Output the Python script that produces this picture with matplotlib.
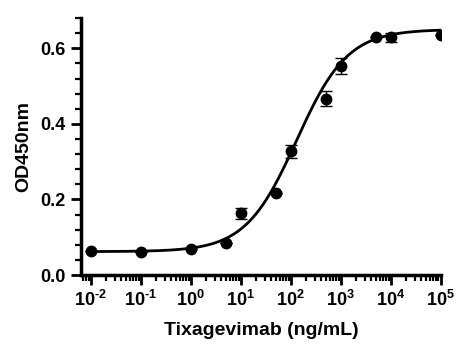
import matplotlib

matplotlib.use("Agg")
import matplotlib.pyplot as plt  # noqa: E402
import numpy as np  # noqa: E402
from matplotlib.ticker import FixedLocator, LogLocator, MultipleLocator, NullFormatter  # noqa: E402

# measured points (mean ± SD)
conc = [0.01, 0.1, 1, 5, 10, 50, 100, 500, 1000, 5000, 10000, 100000]
od450 = [0.063, 0.062, 0.068, 0.084, 0.163, 0.218, 0.327, 0.466, 0.554, 0.630, 0.629, 0.634]
od_sd = [0.0, 0.0, 0.0, 0.0, 0.014, 0.0, 0.016, 0.020, 0.021, 0.0, 0.012, 0.0]
x_exponents = [-2, -1, 0, 1, 2, 3, 4, 5]

# 4PL fit parameters
fit_bottom = 0.062
fit_top = 0.650
fit_ec50 = 130.0
fit_hill = 0.85

plt.rcParams["font.family"] = ["Liberation Sans", "DejaVu Sans"]
plt.rcParams["font.weight"] = "bold"
plt.rcParams["axes.unicode_minus"] = False
plt.rcParams["mathtext.fontset"] = "custom"
plt.rcParams["mathtext.rm"] = "Liberation Sans:bold"
plt.rcParams["mathtext.it"] = "Liberation Sans:bold"
plt.rcParams["mathtext.bf"] = "Liberation Sans:bold"

fig = plt.figure(figsize=(4.76, 3.54), dpi=100)
ax = fig.add_axes([0.170, 0.223, 0.756, 0.726])

xs = np.logspace(-2, 5, 400)
ys = fit_bottom + (fit_top - fit_bottom) / (1 + (fit_ec50 / xs) ** fit_hill)
ax.plot(xs, ys, color="black", linewidth=2.0, zorder=2)

ax.errorbar(conc, od450, yerr=od_sd, fmt="o", color="black", markersize=7.5,
            elinewidth=1.0, capsize=4, capthick=1.0, zorder=3)

ax.set_xscale("log")
ax.set_xlim(10 ** -2.2, 1e5)
ax.set_ylim(0, 0.68)

ax.xaxis.set_major_locator(FixedLocator([10.0 ** k for k in x_exponents]))
ax.xaxis.set_minor_locator(LogLocator(base=10, subs=np.arange(2, 10), numticks=20))
ax.xaxis.set_minor_formatter(NullFormatter())
ax.set_xticklabels([f"$10^{{{str(k).replace('-', chr(0x2010))}}}$" for k in x_exponents])

ax.yaxis.set_major_locator(FixedLocator([0.0, 0.2, 0.4, 0.6]))
ax.yaxis.set_minor_locator(MultipleLocator(0.04))
ax.set_yticklabels(["0.0", "0.2", "0.4", "0.6"])

for side in ["top", "right"]:
    ax.spines[side].set_visible(False)
for side in ["left", "bottom"]:
    ax.spines[side].set_linewidth(2.5)

ax.tick_params(which="major", length=7, width=2.0, labelsize=13, pad=4)
ax.tick_params(which="minor", length=4, width=1.6)

ax.set_xlabel("Tixagevimab (ng/mL)", fontsize=14, fontweight="bold", labelpad=8)
ax.set_ylabel("OD450nm", fontsize=14, fontweight="bold", labelpad=6)

fig.savefig("out.png", dpi=100, facecolor="white")
